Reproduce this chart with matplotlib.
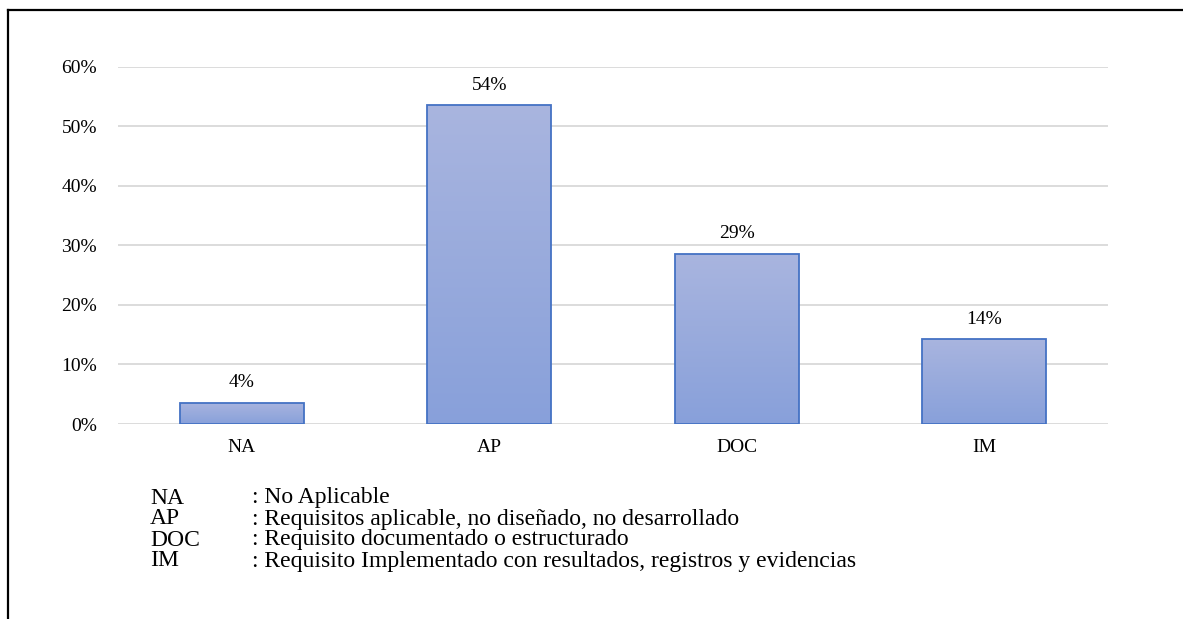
import numpy as np
import matplotlib.pyplot as plt
from matplotlib.lines import Line2D
from matplotlib.ticker import PercentFormatter

categories = ['NA', 'AP', 'DOC', 'IM']
shares = [0.036, 0.536, 0.286, 0.143]
legend_keys = ['NA', 'AP', 'DOC', 'IM']
legend_desc = [': No Aplicable',
               ': Requisitos aplicable, no diseñado, no desarrollado',
               ': Requisito documentado o estructurado',
               ': Requisito Implementado con resultados, registros y evidencias']

plt.rcParams['font.family'] = ['Liberation Serif', 'DejaVu Serif']

fig = plt.figure(figsize=(11.83, 6.19), dpi=100)
ax = fig.add_axes([0.0997, 0.315, 0.837, 0.577])

x = np.arange(len(categories))
bars = ax.bar(x, shares, width=0.5, color='none', edgecolor='#4472C4',
              linewidth=1.3, zorder=3)

# vertical gradient inside each bar, lighter at the top
top = np.array([169, 181, 223]) / 255
bottom = np.array([136, 160, 218]) / 255
t = np.linspace(0, 1, 256)[:, None]
grad = (bottom * (1 - t) + top * t).reshape(256, 1, 3)
for b in bars:
    im = ax.imshow(grad, origin='lower', aspect='auto', zorder=2,
                   extent=[b.get_x(), b.get_x() + b.get_width(), 0, b.get_height()])
    im.set_clip_path(b)

for b, v in zip(bars, shares):
    ax.annotate(f'{v:.0%}', (b.get_x() + b.get_width() / 2, v),
                xytext=(0, 11), textcoords='offset points',
                ha='center', va='baseline', fontsize=14)

ax.set_xlim(-0.5, len(categories) - 0.5)
ax.set_ylim(0, 0.6)
ax.set_yticks(np.arange(0, 0.61, 0.1))
ax.yaxis.set_major_formatter(PercentFormatter(1.0, decimals=0))
ax.set_xticks(x)
ax.set_xticklabels(categories)
ax.tick_params(length=0, labelsize=14)
ax.tick_params(axis='x', pad=11)
ax.tick_params(axis='y', pad=15)
ax.grid(axis='y', color='#D9D9D9', linewidth=1.3, zorder=0)
for s in ax.spines.values():
    s.set_visible(False)

# key for the abbreviations below the chart, one block per column
# (baseline alignment puts the last line at y0)
y0 = 1 - 566.5 / 619
fig.text(150 / 1183, y0, '\n'.join(legend_keys), fontsize=17,
         va='baseline', ha='left', linespacing=1.0)
fig.text(252 / 1183, y0, '\n'.join(legend_desc), fontsize=17,
         va='baseline', ha='left', linespacing=1.0)

# frame around the figure (top and left edges)
fig.add_artist(Line2D([7.5 / 1183, 1], [1 - 9.5 / 619] * 2,
                      transform=fig.transFigure, color='black', linewidth=1.6))
fig.add_artist(Line2D([7.5 / 1183] * 2, [0, 1 - 9.5 / 619],
                      transform=fig.transFigure, color='black', linewidth=1.6))

fig.savefig('out.png', dpi=100)
